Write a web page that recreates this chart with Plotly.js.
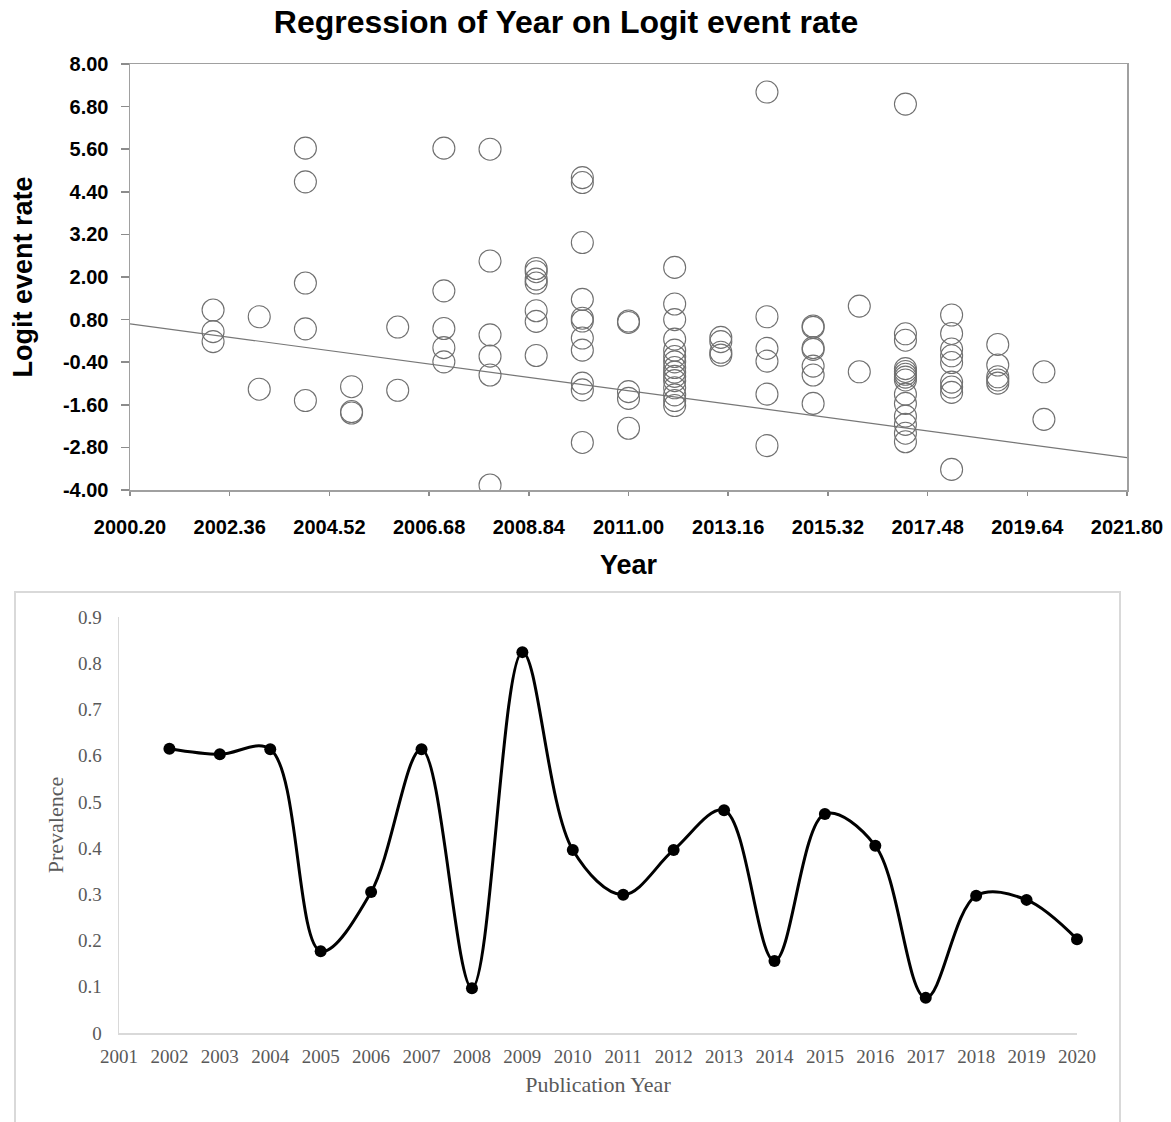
<!DOCTYPE html>
<html>
<head>
<meta charset="utf-8">
<script src="https://cdn.plot.ly/plotly-3.0.1.min.js"></script>
<style>
  html, body { margin: 0; padding: 0; background: #ffffff; }
  #chart { width: 1171px; height: 1122px; }
</style>
</head>
<body>
<div id="chart"></div>
<script>
// ---- Top panel: regression scatter ----
const scatterYear = [
  2002, 2002, 2002,
  2003, 2003,
  2004, 2004, 2004, 2004, 2004,
  2005, 2005, 2005,
  2006, 2006,
  2007, 2007, 2007, 2007, 2007,
  2008, 2008, 2008, 2008, 2008, 2008,
  2009, 2009, 2009, 2009, 2009, 2009, 2009,
  2010, 2010, 2010, 2010, 2010, 2010, 2010, 2010, 2010, 2010, 2010,
  2011, 2011, 2011, 2011, 2011,
  2012, 2012, 2012, 2012, 2012, 2012, 2012, 2012, 2012, 2012, 2012, 2012, 2012, 2012, 2012,
  2013, 2013, 2013, 2013,
  2014, 2014, 2014, 2014, 2014, 2014,
  2015, 2015, 2015, 2015, 2015, 2015, 2015,
  2016, 2016,
  2017, 2017, 2017, 2017, 2017, 2017, 2017, 2017, 2017, 2017, 2017, 2017, 2017, 2017,
  2018, 2018, 2018, 2018, 2018, 2018, 2018, 2018, 2018,
  2019, 2019, 2019, 2019, 2019,
  2020, 2020
];
const scatterLogit = [
  1.07, 0.46, 0.18,
  0.88, -1.16,
  5.63, 4.68, 1.83, 0.54, -1.48,
  -1.09, -1.79, -1.83,
  0.59, -1.19,
  5.63, 1.61, 0.55, 0.01, -0.39,
  5.60, 2.45, 0.37, -0.23, -0.76, -3.86,
  2.24, 2.15, 1.94, 1.83, 1.05, 0.75, -0.21,
  4.80, 4.66, 2.97, 1.37, 0.84, 0.76, 0.28, -0.06, -0.99, -1.18, -2.66,
  0.76, 0.72, -1.23, -1.42, -2.26,
  2.27, 1.24, 0.80, 0.25, -0.06, -0.24, -0.39, -0.55, -0.68, -0.80, -0.92, -1.12, -1.32, -1.48, -1.62,
  0.30, 0.18, -0.12, -0.20,
  7.21, 0.88, -0.01, -0.37, -1.30, -2.75,
  0.62, 0.58, 0.01, -0.04, -0.51, -0.76, -1.56,
  1.18, -0.67,
  6.87, 0.40, 0.22, -0.58, -0.66, -0.74, -0.82, -0.90, -1.30, -1.56, -1.92, -2.15, -2.40, -2.64,
  0.93, 0.41, -0.03, -0.22, -0.41, -0.96, -1.10, -1.25, -3.42,
  0.10, -0.48, -0.81, -0.90, -0.99,
  -0.67, -2.01
];
// regression line as read at both ends of the year axis
const regressionYear = [2000.20, 2021.80];
const regressionLogit = [0.68, -3.09];
const topXTicks = [2000.20, 2002.36, 2004.52, 2006.68, 2008.84, 2011.00, 2013.16, 2015.32, 2017.48, 2019.64, 2021.80];
const topYTicks = [-4.00, -2.80, -1.60, -0.40, 0.80, 2.00, 3.20, 4.40, 5.60, 6.80, 8.00];

// ---- Bottom panel: prevalence by publication year ----
const pubYear = [2002, 2003, 2004, 2005, 2006, 2007, 2008, 2009, 2010, 2011, 2012, 2013, 2014, 2015, 2016, 2017, 2018, 2019, 2020];
const prevalence = [0.615, 0.603, 0.614, 0.177, 0.305, 0.614, 0.097, 0.824, 0.396, 0.299, 0.396, 0.482, 0.156, 0.474, 0.405, 0.076, 0.297, 0.288, 0.203];
const bottomXTicks = [2001, 2002, 2003, 2004, 2005, 2006, 2007, 2008, 2009, 2010, 2011, 2012, 2013, 2014, 2015, 2016, 2017, 2018, 2019, 2020];
const bottomYTicks = [0, 0.1, 0.2, 0.3, 0.4, 0.5, 0.6, 0.7, 0.8, 0.9];

const W = 1171, H = 1122;
const px = v => v / W;
const py = v => 1 - v / H;

const sans = 'Liberation Sans, Arial, sans-serif';
const serif = 'Liberation Serif, Times New Roman, serif';

const traces = [
  {
    x: regressionYear, y: regressionLogit,
    xaxis: 'x', yaxis: 'y',
    type: 'scatter', mode: 'lines',
    line: { color: '#777777', width: 1.2 },
    hoverinfo: 'skip', showlegend: false
  },
  {
    x: scatterYear, y: scatterLogit,
    xaxis: 'x', yaxis: 'y',
    type: 'scatter', mode: 'markers',
    marker: { symbol: 'circle-open', size: 22, color: '#707070', line: { width: 1.1 } },
    showlegend: false
  },
  {
    x: pubYear, y: prevalence,
    xaxis: 'x2', yaxis: 'y2',
    type: 'scatter', mode: 'lines+markers',
    line: { shape: 'spline', smoothing: 1, color: '#000000', width: 3 },
    marker: { symbol: 'circle', size: 12, color: '#000000' },
    cliponaxis: false,
    showlegend: false
  }
];

const layout = {
  width: W, height: H,
  autosize: false,
  margin: { l: 0, r: 0, t: 0, b: 0 },
  paper_bgcolor: '#ffffff',
  plot_bgcolor: '#ffffff',
  showlegend: false,
  title: {
    text: 'Regression of Year on Logit event rate',
    font: { family: sans, size: 32, color: '#000000', weight: 'bold' },
    x: px(566), xanchor: 'center',
    y: py(22), yanchor: 'middle'
  },
  xaxis: {
    domain: [px(130), px(1127)],
    anchor: 'y',
    range: [2000.20, 2021.80],
    tickmode: 'array', tickvals: topXTicks,
    ticktext: topXTicks.map(v => v.toFixed(2)),
    ticks: 'outside', ticklen: 4, tickcolor: '#8c8c8c', tickwidth: 1.5,
    ticklabelstandoff: 14,
    showline: true, linecolor: '#a0a0a0', linewidth: 1.5, mirror: true,
    showgrid: false, zeroline: false,
    tickfont: { family: sans, size: 20, color: '#000000', weight: 'bold' },
    title: { text: 'Year', font: { family: sans, size: 27, color: '#000000', weight: 'bold' }, standoff: 18 }
  },
  yaxis: {
    domain: [py(490), py(64)],
    anchor: 'x',
    range: [-4, 8],
    tickmode: 'array', tickvals: topYTicks,
    ticktext: topYTicks.map(v => v.toFixed(2)),
    ticks: 'outside', ticklen: 8, tickcolor: '#8c8c8c', tickwidth: 1.5,
    ticklabelstandoff: 8,
    showline: true, linecolor: '#a0a0a0', linewidth: 1.5, mirror: true,
    showgrid: false, zeroline: false,
    tickfont: { family: sans, size: 20, color: '#000000', weight: 'bold' },
    title: { text: 'Logit event rate', font: { family: sans, size: 27, color: '#000000', weight: 'bold' }, standoff: 22 }
  },
  xaxis2: {
    domain: [px(119), px(1077)],
    anchor: 'y2',
    range: [2001, 2020],
    tickmode: 'array', tickvals: bottomXTicks,
    ticktext: bottomXTicks.map(String),
    ticks: '', ticklabelstandoff: 6,
    showline: true, linecolor: '#d9d9d9', linewidth: 1.5,
    showgrid: false, zeroline: false,
    tickfont: { family: serif, size: 19, color: '#595959' },
    title: { text: 'Publication Year', font: { family: serif, size: 22, color: '#595959' }, standoff: 10 }
  },
  yaxis2: {
    domain: [py(1033), py(617)],
    anchor: 'x2',
    range: [0, 0.9],
    tickmode: 'array', tickvals: bottomYTicks,
    ticktext: bottomYTicks.map(String),
    ticks: '', ticklabelstandoff: 12,
    showline: true, linecolor: '#d9d9d9', linewidth: 1.5,
    showgrid: false, zeroline: false,
    tickfont: { family: serif, size: 19, color: '#595959' },
    title: { text: 'Prevalence', font: { family: serif, size: 22, color: '#595959' }, standoff: 8 }
  },
  shapes: [
    {
      type: 'rect', xref: 'paper', yref: 'paper',
      x0: px(15), x1: px(1120), y0: -0.01, y1: py(592),
      line: { color: '#d9d9d9', width: 2 }, fillcolor: 'rgba(0,0,0,0)', layer: 'below'
    }
  ]
};

Plotly.newPlot('chart', traces, layout, { displayModeBar: false, staticPlot: true });
</script>
</body>
</html>
